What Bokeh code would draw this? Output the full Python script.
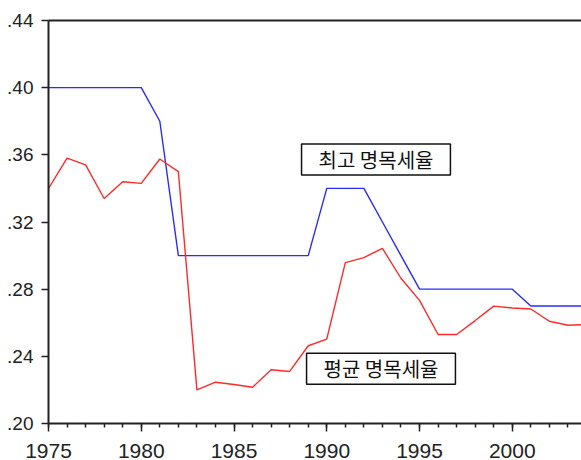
from bokeh.plotting import figure
from bokeh.models import FixedTicker, Label, LinearAxis, Range1d
from bokeh.embed import file_html
from bokeh.resources import INLINE

years = list(range(1975, 2005))
top_rate = [0.40, 0.40, 0.40, 0.40, 0.40, 0.40, 0.38, 0.30, 0.30, 0.30,
            0.30, 0.30, 0.30, 0.30, 0.30, 0.34, 0.34, 0.34, 0.32, 0.30,
            0.28, 0.28, 0.28, 0.28, 0.28, 0.28, 0.27, 0.27, 0.27, 0.27]
avg_rate = [0.340, 0.358, 0.354, 0.334, 0.344, 0.343, 0.3575, 0.350, 0.220, 0.2246,
            0.2232, 0.2216, 0.232, 0.231, 0.2463, 0.2503, 0.2958, 0.2988, 0.3043, 0.2865,
            0.2733, 0.2530, 0.2530, 0.2613, 0.2699, 0.2688, 0.2682, 0.2609, 0.2585, 0.2590]

top_label = "최고 명목세율"
avg_label = "평균 명목세율"

x_major = [1975, 1980, 1985, 1990, 1995, 2000]
y_ticks = [0.20, 0.24, 0.28, 0.32, 0.36, 0.40, 0.44]
y_tick_labels = [".20", ".24", ".28", ".32", ".36", ".40", ".44"]

p = figure(width=581, height=460, output_backend="svg", toolbar_location=None,
           x_range=Range1d(1975, 2003.73), y_range=Range1d(0.20, 0.44),
           min_border_left=48, min_border_right=0, min_border_top=20, min_border_bottom=36)
p.outline_line_color = None
p.xgrid.visible = False
p.ygrid.visible = False
p.background_fill_color = "white"

p.line(years, top_rate, line_color="#2b2bff", line_width=1.4)
p.line(years, avg_rate, line_color="#ff2b2b", line_width=1.4)

xa = p.xaxis[0]
xa.ticker = FixedTicker(ticks=x_major, minor_ticks=years)
xa.major_tick_out = 8
xa.major_tick_in = 0
xa.minor_tick_out = 4
xa.minor_tick_in = 0
xa.axis_line_width = 2
xa.axis_line_color = "#222222"
xa.major_tick_line_color = "#222222"
xa.major_tick_line_width = 1.5
xa.minor_tick_line_color = "#222222"
xa.minor_tick_line_width = 1.5
xa.major_label_text_font = "Liberation Sans"
xa.major_label_text_font_size = "21px"
xa.major_label_text_color = "#222222"
xa.major_label_text_line_height = 1.0
xa.major_label_standoff = 12

ya = p.yaxis[0]
ya.ticker = FixedTicker(ticks=y_ticks)
ya.major_label_overrides = {t: s for t, s in zip(y_ticks, y_tick_labels)}
ya.major_tick_out = 7
ya.major_tick_in = 0
ya.minor_tick_line_color = None
ya.axis_line_width = 2
ya.axis_line_color = "#222222"
ya.major_tick_line_color = "#222222"
ya.major_tick_line_width = 1.5
ya.major_label_text_font = "Liberation Sans"
ya.major_label_text_font_size = "19px"
ya.major_label_text_color = "#222222"
ya.major_label_standoff = 8

top_axis = LinearAxis(ticker=FixedTicker(ticks=[]), axis_line_width=2, axis_line_color="#222222",
                      major_label_text_font_size="0px", major_tick_line_color=None,
                      minor_tick_line_color=None)
p.add_layout(top_axis, "above")

for txt, xx, yy in [(top_label, 1988.64, 0.3665), (avg_label, 1988.91, 0.2419)]:
    p.add_layout(Label(x=xx, y=yy, text=txt, text_font="Noto Sans CJK KR",
                       text_font_size="20px", text_color="#111111",
                       text_align="left", text_baseline="top",
                       border_line_color="#111111", border_line_width=1.5,
                       background_fill_color="white", padding=(17, 1)))

open("out.html", "w").write(file_html(p, INLINE))
